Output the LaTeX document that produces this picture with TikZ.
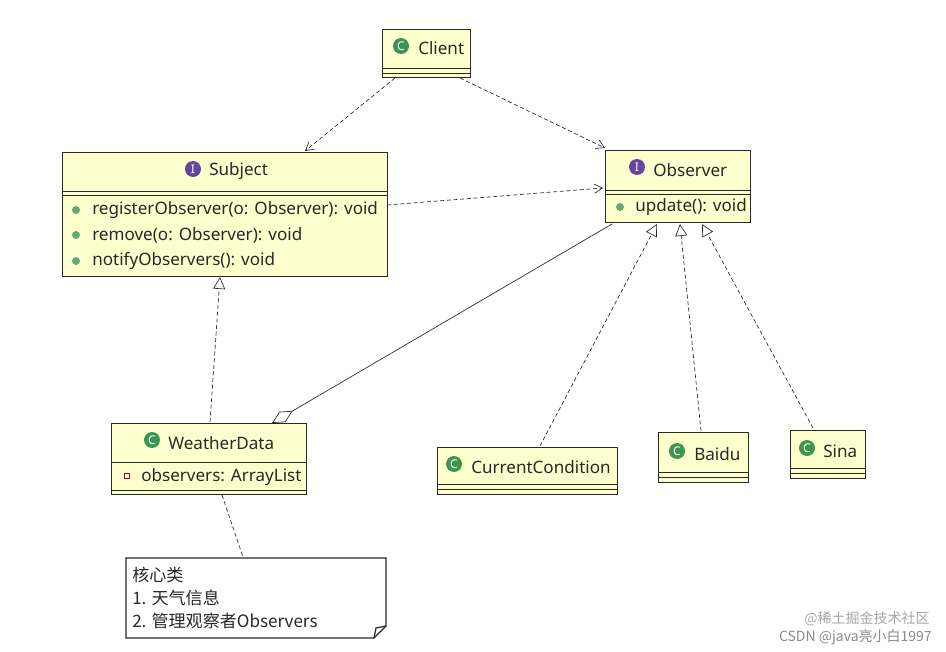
\documentclass[tikz,border=0pt]{standalone}
\usepackage{fontspec}
\setmainfont{Noto Sans}
\newfontfamily\cjk{Noto Sans CJK SC}
\usetikzlibrary{arrows.meta,shapes.geometric}
\definecolor{cfill}{RGB}{255,255,206}
\definecolor{cline}{RGB}{40,40,40}
\definecolor{ctext}{RGB}{40,40,40}
\definecolor{cgreen}{RGB}{60,150,80}
\definecolor{cpurple}{RGB}{100,70,160}
\tikzset{
 box/.style={draw=cline,fill=cfill,line width=0.9pt,inner sep=0,anchor=north west},
 lbl/.style={font=\fontsize{12.8}{14}\selectfont,text=ctext,inner sep=0},
 item/.style={lbl,anchor=west},
 cicon/.style={circle,fill=cgreen,text=white,font=\bfseries\fontsize{9}{9}\selectfont,inner sep=0,minimum size=12pt},
 iicon/.style={circle,fill=cpurple,text=white,font=\bfseries\fontsize{9}{9}\selectfont,inner sep=0,minimum size=12pt},
 dot/.style={circle,fill=cgreen!80,inner sep=0,minimum size=6pt},
 dep/.style={densely dashed,line width=0.5pt,draw=cline,-{Straight Barb[length=6pt,width=7pt]}},
 real/.style={densely dashed,line width=0.5pt,draw=cline,-{Triangle[open,length=9pt,width=9pt,fill=white]}},
 agg/.style={line width=0.5pt,draw=cline,{Diamond[open,length=18pt,width=9pt,fill=white]}-},
 sep/.style={draw=cline,line width=0.7pt},
}
\begin{document}
\begin{tikzpicture}[x=0.75pt,y=-0.75pt]
\useasboundingbox[fill=white] (0,0) rectangle (946,652);
% Client
\node[box,minimum width=66pt,minimum height=36pt] (client) at (382,29) {};
\draw[sep] (382,68) -- (470,68) (382,73) -- (470,73);
\node[cicon] (clienti) at (401,46) {C};
\node[lbl,anchor=west] (clientt) at (418,48) {Client};
% Subject
\node[box,minimum width=243.75pt,minimum height=93pt] (subject) at (62,152) {};
\draw[sep] (62,191) -- (387,191) (62,195) -- (387,195);
\node[iicon] (subjecti) at (193,169) {I};
\node[lbl,anchor=west] (subjectt) at (209,171) {Subject};
\node[dot] (d1) at (76,210) {};
\node[item] (m1) at (92,210) {registerObserver(o: Observer): void};
\node[dot] (d2) at (76,235) {};
\node[item] (m2) at (92,235) {remove(o: Observer): void};
\node[dot] (d3) at (76,261) {};
\node[item] (m3) at (92,261) {notifyObservers(): void};
% Observer
\node[box,minimum width=108.75pt,minimum height=54pt] (observer) at (605,150) {};
\draw[sep] (605,190) -- (750,190) (605,194) -- (750,194);
\node[iicon] (observeri) at (637,167) {I};
\node[lbl,anchor=west] (observert) at (653,170) {Observer};
\node[dot] (d4) at (620,207) {};
\node[item] (m4) at (635,207) {update(): void};
% WeatherData
\node[box,minimum width=146.25pt,minimum height=53pt] (weather) at (111,423) {};
\draw[sep] (111,462) -- (306,462) (111,490) -- (306,490);
\node[cicon] (weatheri) at (152,440) {C};
\node[lbl,anchor=west] (weathert) at (168,443) {WeatherData};
\node[draw=red!70!black,fill=white,inner sep=0,minimum size=4pt,line width=0.6pt] (sq) at (127,476) {};
\node[item] (a1) at (141,477) {observers: ArrayList};
% CurrentCondition
\node[box,minimum width=135pt,minimum height=35.25pt] (cc) at (437,447) {};
\draw[sep] (437,484) -- (617,484) (437,489) -- (617,489);
\node[cicon] (cci) at (454,464) {C};
\node[lbl,anchor=west] (cct) at (471,467) {CurrentCondition};
% Baidu
\node[box,minimum width=67.5pt,minimum height=37.5pt] (baidu) at (658,432) {};
\draw[sep] (658,472) -- (748,472) (658,477) -- (748,477);
\node[cicon] (baidui) at (677,451) {C};
\node[lbl,anchor=west] (baidut) at (694,454) {Baidu};
% Sina
\node[box,minimum width=56.25pt,minimum height=36pt] (sina) at (790,430) {};
\draw[sep] (790,468) -- (865,468) (790,473) -- (865,473);
\node[cicon] (sinai) at (807,448) {C};
\node[lbl,anchor=west] (sinat) at (823,451) {Sina};
% Note
\draw[draw=cline,fill=white,line width=0.9pt] (126,558) -- (386,558) -- (386,626) -- (374,638) -- (126,638) -- cycle;
\draw[draw=cline,line width=0.9pt] (386,626) -- (376,628) -- (374,638);
\node[lbl,anchor=north west,align=left,font=\cjk\fontsize{12.8}{17.25}\selectfont] (note) at (132,567) {核心类\\1. 天气信息\\2. 管理观察者Observers};
% connectors
\coordinate (ca) at (395,78); \coordinate (cb) at (460,78);
\coordinate (sa) at (305,151); \coordinate (oa) at (605,148);
\draw[dep] (ca) -- (sa);
\draw[dep] (cb) -- (oa);
\coordinate (s1) at (387,205); \coordinate (o1) at (603,188);
\draw[dep] (s1) -- (o1);
\coordinate (w1) at (210,422); \coordinate (s2) at (220,277);
\draw[real] (w1) -- (s2);
\coordinate (w2) at (272,423); \coordinate (o2) at (612,224);
\draw[agg] (w2) -- (o2);
\coordinate (c1) at (540,446); \coordinate (o3) at (657,224);
\draw[real] (c1) -- (o3);
\coordinate (b1) at (701,431); \coordinate (o4) at (680,224);
\draw[real] (b1) -- (o4);
\coordinate (x1) at (813,428); \coordinate (o5) at (702,224);
\draw[real] (x1) -- (o5);
\coordinate (w3) at (222,495); \coordinate (n2) at (243,557);
\draw[densely dashed,line width=0.5pt,draw=cline] (w3) -- (n2);
% watermark
\node[anchor=east,text=gray!70,font=\cjk\fontsize{10.5}{12}\selectfont,inner sep=0] (wm1) at (930,619) {@稀土掘金技术社区};
\node[anchor=east,text=gray!90,font=\cjk\fontsize{10.5}{12}\selectfont,inner sep=0] (wm2) at (932,637) {CSDN @java亮小白1997};
\end{tikzpicture}
\end{document}
